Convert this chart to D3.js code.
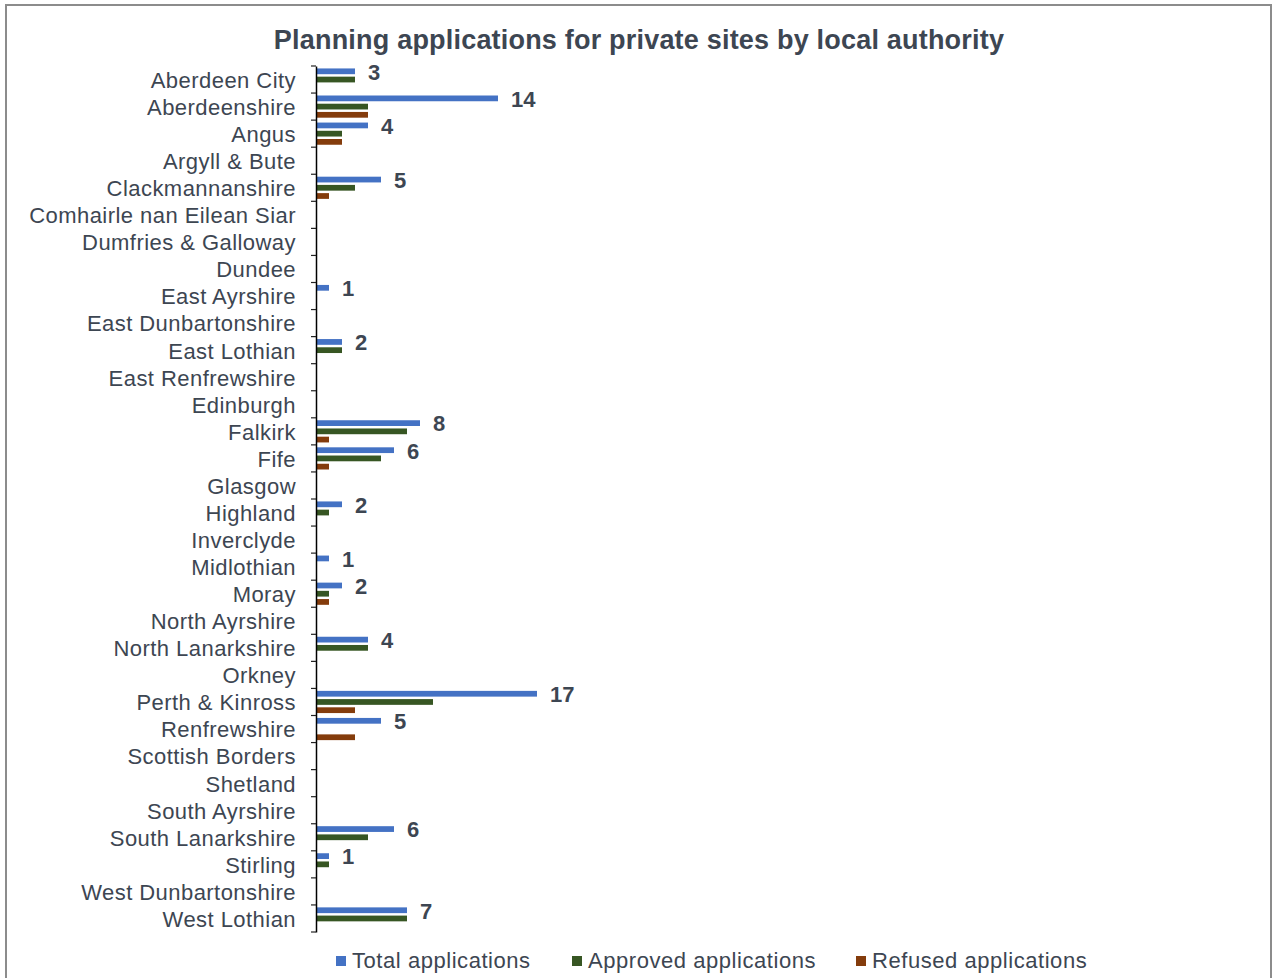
<!DOCTYPE html>
<html>
<head>
<meta charset="utf-8">
<script src="https://cdn.jsdelivr.net/npm/d3@7"></script>
<style>
  html, body { margin: 0; padding: 0; background: #fff; }
  svg { display: block; font-family: "Liberation Sans", Arial, sans-serif; }
</style>
</head>
<body>
<svg id="chart" width="1274" height="978"></svg>
<script>
// Local authorities, top to bottom
const authorities = [
  "Aberdeen City", "Aberdeenshire", "Angus", "Argyll & Bute", "Clackmannanshire",
  "Comhairle nan Eilean Siar", "Dumfries & Galloway", "Dundee", "East Ayrshire",
  "East Dunbartonshire", "East Lothian", "East Renfrewshire", "Edinburgh", "Falkirk",
  "Fife", "Glasgow", "Highland", "Inverclyde", "Midlothian", "Moray", "North Ayrshire",
  "North Lanarkshire", "Orkney", "Perth & Kinross", "Renfrewshire", "Scottish Borders",
  "Shetland", "South Ayrshire", "South Lanarkshire", "Stirling", "West Dunbartonshire",
  "West Lothian"
];

// Application counts per authority
const totalApps    = [3, 14, 4, 0, 5, 0, 0, 0, 1, 0, 2, 0, 0, 8, 6, 0, 2, 0, 1, 2, 0, 4, 0, 17, 5, 0, 0, 0, 6, 1, 0, 7];
const approvedApps = [3, 4, 2, 0, 3, 0, 0, 0, 0, 0, 2, 0, 0, 7, 5, 0, 1, 0, 0, 1, 0, 4, 0, 9, 0, 0, 0, 0, 4, 1, 0, 7];
const refusedApps  = [0, 4, 2, 0, 1, 0, 0, 0, 0, 0, 0, 0, 0, 1, 1, 0, 0, 0, 0, 1, 0, 0, 0, 3, 3, 0, 0, 0, 0, 0, 0, 0];

const seriesNames  = ["Total applications", "Approved applications", "Refused applications"];
const seriesColors = ["#4472C4", "#375623", "#843C0C"];

const seriesData = [totalApps, approvedApps, refusedApps];

const svg = d3.select("#chart");
const textColor = "#3d4652";

// Outer frame
svg.append("rect")
  .attr("x", 6).attr("y", 5)
  .attr("width", 1265).attr("height", 990)
  .attr("fill", "#fff")
  .attr("stroke", "#8c8c8c")
  .attr("stroke-width", 2);

// Title
svg.append("text")
  .attr("x", 639).attr("y", 49)
  .attr("text-anchor", "middle")
  .attr("font-size", 27)
  .attr("font-weight", "bold")
  .attr("letter-spacing", 0.2)
  .attr("fill", textColor)
  .text("Planning applications for private sites by local authority");

const plotLeft = 316, plotTop = 66, plotBottom = 932;

const y = d3.scaleBand()
  .domain(authorities)
  .range([plotTop, plotBottom])
  .paddingInner(0.18)
  .paddingOuter(0.09);

const ySub = d3.scaleBand()
  .domain(seriesNames)
  .range([0, y.bandwidth()])
  .paddingInner(0.3);

const x = d3.scaleLinear()
  .domain([0, 20])
  .range([plotLeft, plotLeft + 260]);

// Bars
const rows = authorities.map((a, i) => ({
  name: a,
  values: seriesNames.map((s, k) => ({ series: s, color: seriesColors[k], value: seriesData[k][i] }))
}));

const groups = svg.append("g").selectAll("g")
  .data(rows)
  .join("g")
  .attr("transform", d => `translate(0,${y(d.name)})`);

groups.selectAll("rect")
  .data(d => d.values.filter(v => v.value > 0))
  .join("rect")
  .attr("x", x(0))
  .attr("y", v => ySub(v.series))
  .attr("width", v => x(v.value) - x(0))
  .attr("height", ySub.bandwidth())
  .attr("fill", v => v.color);

// Value labels on total bars
groups.filter(d => d.values[0].value > 0)
  .append("text")
  .attr("x", d => x(d.values[0].value) + 13)
  .attr("y", ySub(seriesNames[0]) + ySub.bandwidth() / 2)
  .attr("dy", "0.38em")
  .attr("font-size", 22)
  .attr("font-weight", "bold")
  .attr("fill", textColor)
  .text(d => d.values[0].value);

// Category axis
const axis = d3.axisLeft(y.copy().paddingInner(0).paddingOuter(0))
  .tickSize(0)
  .tickPadding(20);

const axisG = svg.append("g")
  .attr("transform", `translate(${plotLeft},0)`)
  .call(axis);
axisG.select(".domain").attr("stroke", "#000").attr("stroke-width", 1.5);
axisG.selectAll(".tick text")
  .attr("font-size", 22)
  .attr("letter-spacing", 0.45)
  .attr("dy", "0.38em")
  .attr("font-family", "Liberation Sans, Arial, sans-serif")
  .attr("fill", textColor);

// Tick marks at category boundaries
const step = (plotBottom - plotTop) / authorities.length;
svg.append("g").selectAll("line")
  .data(d3.range(authorities.length + 1))
  .join("line")
  .attr("x1", plotLeft - 5).attr("x2", plotLeft)
  .attr("y1", i => plotTop + i * step)
  .attr("y2", i => plotTop + i * step)
  .attr("stroke", "#222")
  .attr("stroke-width", 1.2);

// Legend
const legendX = [336, 572, 856];
const legend = svg.append("g").selectAll("g")
  .data(seriesNames)
  .join("g")
  .attr("transform", (d, i) => `translate(${legendX[i]},961)`);
legend.append("rect")
  .attr("x", 0).attr("y", -5)
  .attr("width", 10).attr("height", 10)
  .attr("fill", (d, i) => seriesColors[i]);
legend.append("text")
  .attr("x", 16).attr("y", 7)
  .attr("font-size", 22)
  .attr("letter-spacing", 0.55)
  .attr("fill", textColor)
  .text(d => d);
</script>
</body>
</html>
